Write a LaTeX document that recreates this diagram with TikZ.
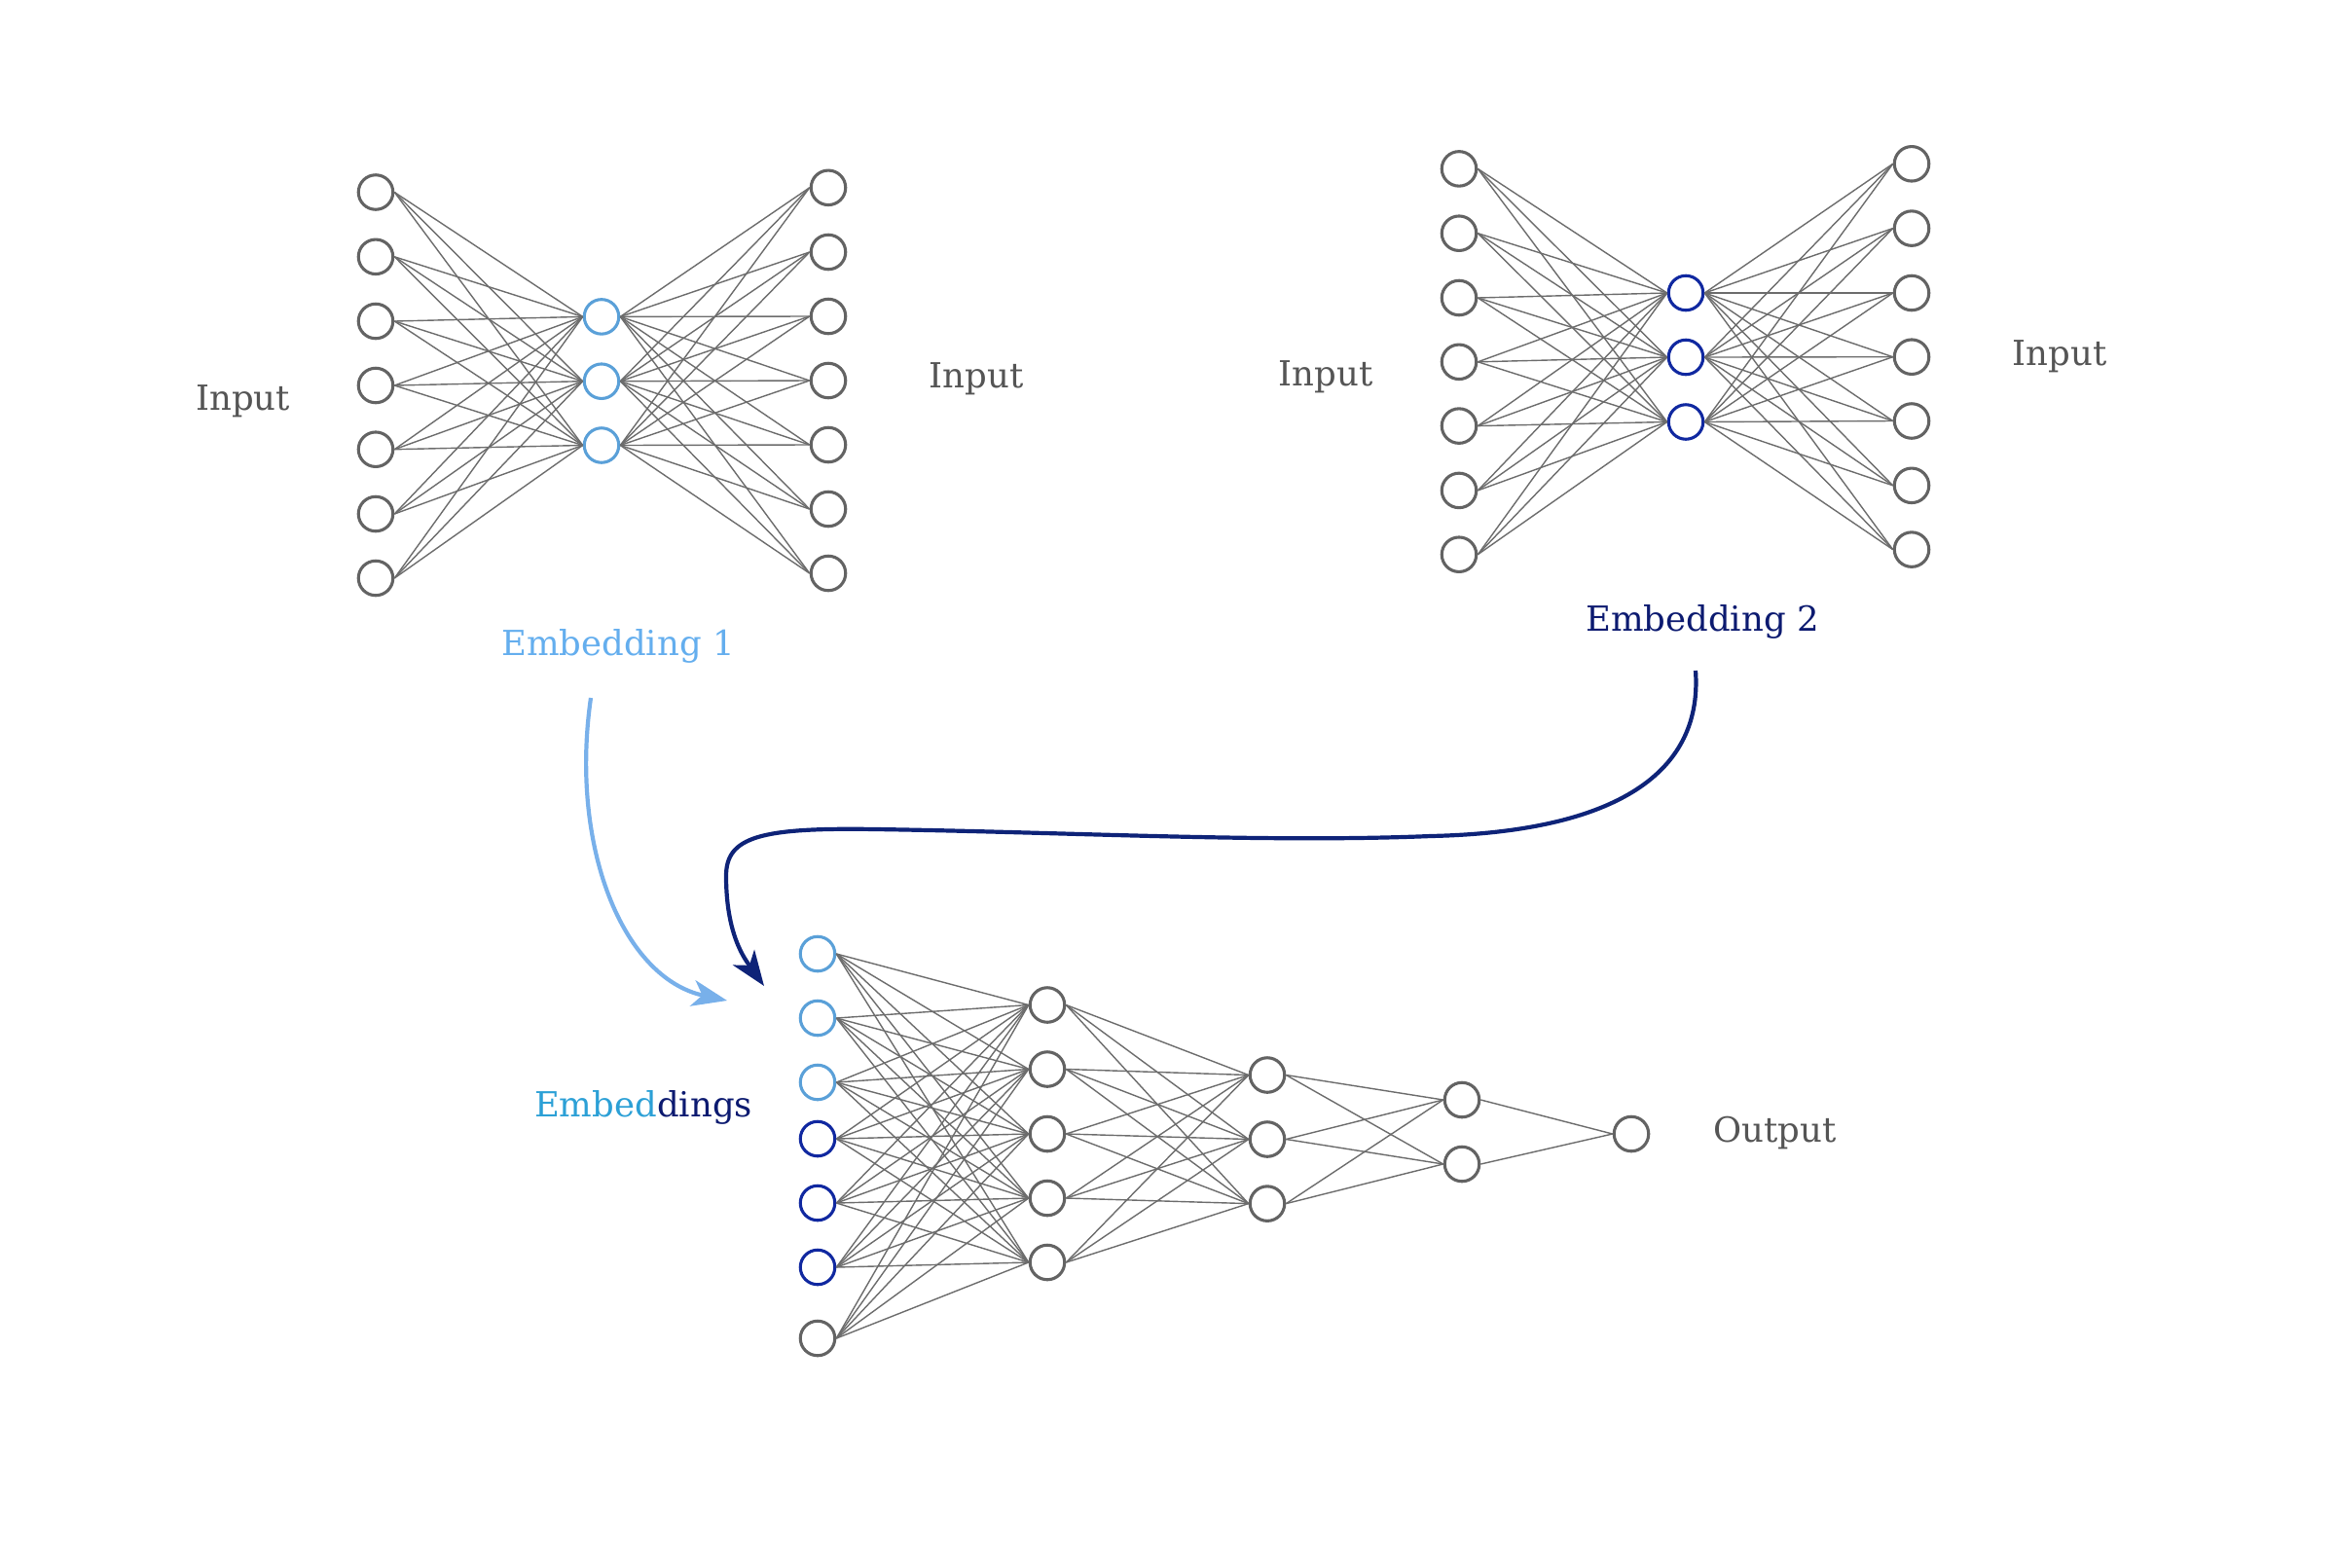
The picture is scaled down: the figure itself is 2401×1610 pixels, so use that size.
\documentclass[tikz,border=0pt]{standalone}
\usepackage{fontspec}
\setmainfont{DejaVu Serif}
\usetikzlibrary{arrows.meta}
\definecolor{ngray}{HTML}{636363}
\definecolor{egray}{HTML}{6C6C6C}
\definecolor{tgray}{HTML}{555555}
\definecolor{lblue}{HTML}{5AA0D8}
\definecolor{dblue}{HTML}{1028A0}
\definecolor{lbtext}{HTML}{64AEEE}
\definecolor{dbtext}{HTML}{0C1A70}
\definecolor{cyantext}{HTML}{2CA0D6}
\definecolor{larrow}{HTML}{78B0EA}
\definecolor{darrow}{HTML}{0E2378}
\begin{document}
\begin{tikzpicture}[x=1pt,y=-1pt,
 neuron/.style={circle, draw=ngray, line width=3.1pt, minimum size=35.5pt, inner sep=0pt},
 eone/.style={neuron, draw=lblue},
 etwo/.style={neuron, draw=dblue},
 edge/.style={draw=egray, line width=1.4pt},
 lbl/.style={anchor=base, font=\fontsize{35.5pt}{42pt}\selectfont, text=tgray, inner sep=0pt},
 flow/.style={line width=4.2pt, -{Stealth[length=36pt,width=27pt,inset=10pt]}}
]
\useasboundingbox (0,0) rectangle (2401,1610);

% ---- autoencoder 1
\foreach \y [count=\i] in {197.5,263.8,330,396,461.7,528,594}
  \node[neuron] (a\i) at (386,\y) {};
\foreach \y [count=\i] in {325.4,391.7,457.5}
  \node[eone] (b\i) at (618,\y) {};
\foreach \y [count=\i] in {192.8,259,325,391,457,523,589}
  \node[neuron] (c\i) at (851,\y) {};
\foreach \i in {1,...,7}
  \foreach \j in {1,2,3} {
    \draw[edge] (a\i.east) -- (b\j.west);
    \draw[edge] (b\j.east) -- (c\i.west);
  }

% ---- autoencoder 2
\foreach \y [count=\i] in {173.4,239.7,306,371.8,437.6,503.9,569.7}
  \node[neuron] (d\i) at (1499,\y) {};
\foreach \y [count=\i] in {301,367,433.5}
  \node[etwo] (e\i) at (1732,\y) {};
\foreach \y [count=\i] in {168.3,234.6,301,366.7,432.5,498.8,564.6}
  \node[neuron] (f\i) at (1964,\y) {};
\foreach \i in {1,...,7}
  \foreach \j in {1,2,3} {
    \draw[edge] (d\i.east) -- (e\j.west);
    \draw[edge] (e\j.east) -- (f\i.west);
  }

% ---- downstream network
\node[eone] (p1) at (840,980) {};
\node[eone] (p2) at (840,1046) {};
\node[eone] (p3) at (840,1112) {};
\node[etwo] (p4) at (840,1170) {};
\node[etwo] (p5) at (840,1236) {};
\node[etwo] (p6) at (840,1302) {};
\node[neuron] (p7) at (840,1375) {};
\foreach \y [count=\i] in {1032.5,1098.5,1165,1231,1297}
  \node[neuron] (q\i) at (1076,\y) {};
\foreach \y [count=\i] in {1104.5,1170.5,1236.6}
  \node[neuron] (r\i) at (1302,\y) {};
\foreach \y [count=\i] in {1130,1196}
  \node[neuron] (s\i) at (1502,\y) {};
\node[neuron] (o1) at (1676,1165) {};
\foreach \i in {1,...,7}
  \foreach \j in {1,...,5}
    \draw[edge] (p\i.east) -- (q\j.west);
\foreach \i in {1,...,5}
  \foreach \j in {1,2,3}
    \draw[edge] (q\i.east) -- (r\j.west);
\foreach \i in {1,2,3}
  \foreach \j in {1,2}
    \draw[edge] (r\i.east) -- (s\j.west);
\foreach \i in {1,2}
  \draw[edge] (s\i.east) -- (o1.west);

% ---- labels
\node[lbl] (in1) at (249.5,421) {Input};
\node[lbl] (out1) at (1003,398) {Input};
\node[lbl, text=lbtext] (emb1) at (635,673) {Embedding 1};
\node[lbl] (in2) at (1362,396.3) {Input};
\node[lbl] (out2) at (2116,375) {Input};
\node[lbl, text=dbtext] (emb2) at (1749,648.7) {Embedding 2};
\node[lbl] (embs) at (661,1147) {\textcolor{cyantext}{Embed}\textcolor{dbtext}{dings}};
\node[lbl] (outp) at (1823.6,1173.3) {Output};

% ---- arrows
\coordinate (s1) at (607,717);
\coordinate (t1) at (747,1028);
\draw[flow, draw=larrow] (s1) .. controls (585,870) and (640,1005) .. (t1);
\coordinate (s2) at (1742,689);
\coordinate (t2) at (785,1013);
\draw[flow, draw=darrow] (s2) .. controls (1750,800) and (1650,855) .. (1470,859)
  .. controls (1300,866) and (1100,855) .. (900,852)
  .. controls (780,850) and (746,860) .. (746,900)
  .. controls (746,960) and (765,985) .. (t2);
\end{tikzpicture}
\end{document}
